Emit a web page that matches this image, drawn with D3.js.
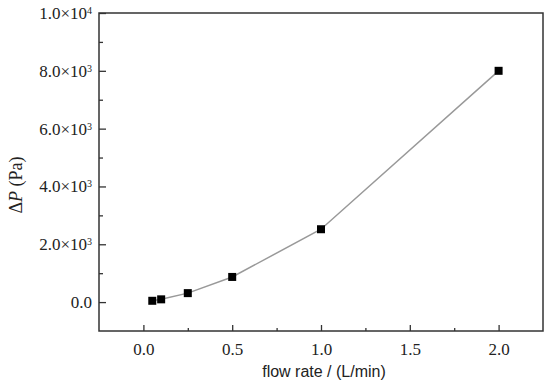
<!DOCTYPE html>
<html>
<head>
<meta charset="utf-8">
<script src="https://cdn.jsdelivr.net/npm/d3@7"></script>
<style>
  body { margin: 0; background: #fff; }
  svg { display: block; }
  .serif { font-family: "Liberation Serif", "Times New Roman", Times, serif; }
</style>
</head>
<body>
<svg id="chart" width="550" height="384"></svg>
<script>
const flowRate = [0.05, 0.1, 0.25, 0.5, 1.0, 2.0];
const pressure = [45, 95, 310, 870, 2520, 8000];
const xTicks = [0.0, 0.5, 1.0, 1.5, 2.0];
const xMinor = [0.25, 0.75, 1.25, 1.75];
const yTicks = [0, 2000, 4000, 6000, 8000, 10000];
const yMinor = [1000, 3000, 5000, 7000, 9000];
const yLabels = [["0.0", ""], ["2.0", "3"], ["4.0", "3"], ["6.0", "3"], ["8.0", "3"], ["1.0", "4"]];

const svg = d3.select("#chart");
const plotL = 99, plotR = 543, plotT = 13, plotB = 331;

const x = d3.scaleLinear().domain([-0.25, 2.25]).range([plotL, plotR]);
const y = d3.scaleLinear().domain([-1000, 10000]).range([plotB, plotT]);

const frameColor = "#333";

// minor ticks
svg.append("g")
  .attr("transform", `translate(0,${plotB})`)
  .call(d3.axisBottom(x).tickValues(xMinor).tickSize(-3).tickFormat(""))
  .call(g => g.select(".domain").remove())
  .call(g => g.selectAll("line").attr("stroke", frameColor).attr("stroke-width", 1.3));

svg.append("g")
  .attr("transform", `translate(${plotL},0)`)
  .call(d3.axisLeft(y).tickValues(yMinor).tickSize(-4).tickFormat(""))
  .call(g => g.select(".domain").remove())
  .call(g => g.selectAll("line").attr("stroke", frameColor).attr("stroke-width", 1.3));

// major x axis
svg.append("g")
  .attr("transform", `translate(0,${plotB})`)
  .call(d3.axisBottom(x).tickValues(xTicks).tickSize(-6).tickPadding(12).tickFormat(d3.format(".1f")))
  .attr("font-family", null)
  .attr("font-size", null)
  .attr("class", "serif")
  .call(g => g.select(".domain").remove())
  .call(g => g.selectAll("line").attr("stroke", frameColor).attr("stroke-width", 1.3))
  .call(g => g.selectAll("text")
    .attr("fill", "#222")
    .style("font-size", "17px"));

// major y axis
svg.append("g")
  .attr("transform", `translate(${plotL},0)`)
  .call(d3.axisLeft(y).tickValues(yTicks).tickSize(-7).tickPadding(7))
  .attr("font-family", null)
  .attr("font-size", null)
  .attr("class", "serif")
  .call(g => g.select(".domain").remove())
  .call(g => g.selectAll("line").attr("stroke", frameColor).attr("stroke-width", 1.3))
  .call(g => g.selectAll("text")
    .attr("fill", "#222")
    .style("font-size", "17px")
    .each(function(d, i) {
      const t = d3.select(this).text("");
      const lab = yLabels[i];
      if (lab[1] === "") {
        t.append("tspan").text(lab[0]);
      } else {
        t.append("tspan").text(lab[0] + "\u00d710");
        t.append("tspan").attr("dy", "-0.5em").style("font-size", "10px").text(lab[1]);
      }
    }));

// frame
svg.append("rect")
  .attr("x", plotL).attr("y", plotT)
  .attr("width", plotR - plotL).attr("height", plotB - plotT)
  .attr("fill", "none")
  .attr("stroke", frameColor)
  .attr("stroke-width", 1.5);

const pts = flowRate.map((f, i) => [f, pressure[i]]);

svg.append("path")
  .datum(pts)
  .attr("fill", "none")
  .attr("stroke", "#999")
  .attr("stroke-width", 1.5)
  .attr("d", d3.line().x(d => x(d[0])).y(d => y(d[1])));

svg.selectAll("rect.pt")
  .data(pts)
  .join("rect")
  .attr("class", "pt")
  .attr("x", d => x(d[0]) - 4)
  .attr("y", d => y(d[1]) - 4)
  .attr("width", 8)
  .attr("height", 8)
  .attr("fill", "#000");

// axis titles
svg.append("text")
  .attr("x", (plotL + plotR) / 2 + 3)
  .attr("y", 377)
  .attr("text-anchor", "middle")
  .attr("fill", "#222")
  .style("font-family", "'Liberation Sans', Arial, sans-serif")
  .style("font-size", "16px")
  .text("flow rate / (L/min)");

const yt = svg.append("text")
  .attr("class", "serif")
  .attr("transform", "translate(22,185) rotate(-90)")
  .attr("text-anchor", "middle")
  .attr("fill", "#222")
  .style("font-size", "18px");
yt.append("tspan").text("\u0394");
yt.append("tspan").style("font-style", "italic").text("P");
yt.append("tspan").text(" (Pa)");
</script>
</body>
</html>
